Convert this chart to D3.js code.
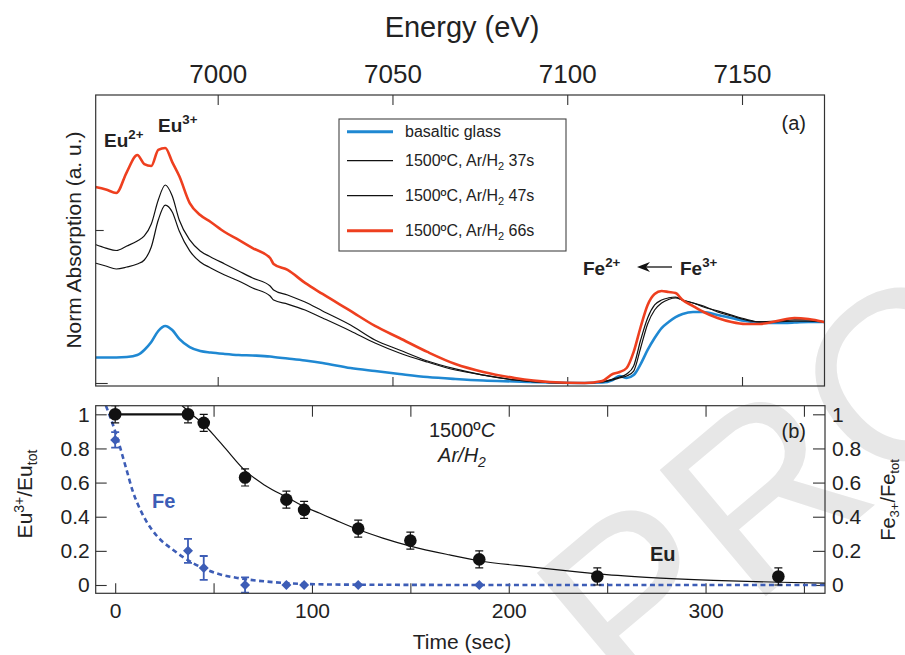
<!DOCTYPE html>
<html><head><meta charset="utf-8">
<script src="https://cdn.jsdelivr.net/npm/d3@7"></script>
<style>
body{margin:0;background:#fff}
svg{display:block}
</style>
</head><body>
<svg id="c" width="905" height="655"></svg>
<script>
// ---------------- DATA ----------------
// Panel (a): XANES spectra, normalised absorption (arbitrary offset units)
const energy = [6965,6968,6971,6974,6977,6979,6981,6983,6985,6987,6989,6992,6995,6998,7002,7006,7010,7015,7016,7020,7025,7030,7038,7045,7052,7060,7068,7076,7085,7095,7105,7110,7113,7115,7117,7119,7121,7123,7125,7127,7129,7131,7133,7136,7139,7143,7147,7151,7155,7160,7165,7169,7173.5];
const glass = [0.167,0.167,0.167,0.170,0.183,0.216,0.268,0.340,0.373,0.346,0.288,0.235,0.209,0.199,0.190,0.183,0.180,0.173,0.170,0.160,0.147,0.131,0.098,0.078,0.059,0.039,0.026,0.016,0.010,0.003,0.000,0.003,0.020,0.046,0.033,0.052,0.124,0.216,0.294,0.359,0.399,0.431,0.451,0.464,0.464,0.444,0.425,0.405,0.395,0.392,0.395,0.399,0.399];
const arH37 = [0.784,0.765,0.745,0.758,0.778,0.804,0.889,1.065,1.163,1.118,0.993,0.863,0.791,0.752,0.706,0.667,0.621,0.569,0.542,0.516,0.477,0.425,0.340,0.261,0.196,0.137,0.085,0.052,0.020,0.003,0.000,0.007,0.020,0.033,0.046,0.078,0.229,0.386,0.477,0.523,0.546,0.556,0.542,0.523,0.497,0.471,0.444,0.418,0.399,0.399,0.405,0.405,0.399];
const arH47 = [0.905,0.882,0.866,0.895,0.928,0.961,1.039,1.196,1.294,1.222,1.065,0.935,0.863,0.824,0.778,0.732,0.686,0.634,0.608,0.575,0.529,0.471,0.379,0.281,0.216,0.144,0.092,0.052,0.020,0.003,0.000,0.007,0.026,0.039,0.059,0.111,0.281,0.425,0.510,0.542,0.556,0.562,0.542,0.523,0.503,0.464,0.438,0.412,0.399,0.405,0.412,0.412,0.399];
const arH66 = [1.281,1.265,1.242,1.379,1.490,1.431,1.418,1.523,1.536,1.444,1.353,1.176,1.098,1.052,0.987,0.935,0.882,0.817,0.778,0.739,0.654,0.582,0.471,0.373,0.294,0.203,0.124,0.072,0.033,0.007,0.000,0.013,0.059,0.072,0.098,0.203,0.366,0.510,0.582,0.601,0.595,0.588,0.542,0.503,0.464,0.425,0.399,0.386,0.386,0.405,0.425,0.418,0.399];
const energyTicks = [7000,7050,7100,7150];
const absTicks = [0,1];
const legendLabels = ["basaltic glass","37s","47s","66s"];

// Panel (b): redox kinetics
const euTime = [0,37,45,66,87,96,123.5,150,185,245,337];
const euFrac = [1.0,1.0,0.95,0.63,0.50,0.44,0.33,0.26,0.15,0.05,0.05];
const euErr  = [0.05,0.05,0.05,0.05,0.05,0.05,0.05,0.05,0.05,0.05,0.05];
const feTime = [0,37,45,66,87,96,123.5,185];
const feFrac = [0.85,0.20,0.10,0.0,0.0,0.0,0.0,0.0];
const feErr  = [0.045,0.07,0.07,0.045,0,0,0,0];
const euFitTime = [34,40,45,50,56,66,76,87,96,104,112,123.5,136,150,170,185,212,236,245,270,304,338,361];
const euFitFrac = [1.05,0.99,0.94,0.88,0.80,0.67,0.585,0.515,0.46,0.42,0.38,0.325,0.275,0.228,0.176,0.142,0.105,0.075,0.065,0.045,0.027,0.016,0.011];
const feFitTime = [-4.7,0,2.4,5.8,9.2,12,16,21,29.5,39.7,51.6,63.4,77,94,120,200,361];
const feFitFrac = [1.05,0.90,0.81,0.674,0.54,0.46,0.37,0.29,0.205,0.127,0.068,0.039,0.02,0.007,0.002,0,0];
const timeTicks = [0,50,100,150,200,250,300,350];
const fracTicks = [0,0.2,0.4,0.6,0.8,1];

// ---------------- DRAWING ----------------
const FONT = '"Liberation Sans", Arial, Helvetica, sans-serif';
const INK = "#222";
const BLUE = "#1f88d2", RED = "#ee3f1f", FEB = "#3d5db6";
const svg = d3.select("#c").attr("font-family", FONT);

// watermark
svg.append("text").attr("transform","translate(628,712) rotate(-40)")
  .attr("font-size",240).attr("fill","#e7e7e7").attr("font-family",FONT).text("PROOF");

function styleAxis(g, fs){
  g.select(".domain").remove();
  g.selectAll("line").attr("stroke","#333").attr("stroke-width",1.1);
  g.selectAll("text").attr("font-size",fs).attr("font-family",FONT).attr("fill",INK);
}

// ===== Panel (a) =====
const A = {l:95.7, r:824.5, t:95, b:386};
const xA = d3.scaleLinear().domain([6965.1,7173.6]).range([A.l,A.r]);
const yA = d3.scaleLinear().domain([0,1]).range([383,230]);

svg.append("clipPath").attr("id","clipA").append("rect")
  .attr("x",A.l).attr("y",A.t).attr("width",A.r-A.l).attr("height",A.b-A.t);

svg.append("g").attr("transform",`translate(0,${A.t})`)
  .call(d3.axisTop(xA).tickValues(energyTicks).tickSize(-10).tickPadding(12).tickFormat(d3.format("d")))
  .call(g=>styleAxis(g,26));
svg.append("g").attr("transform",`translate(0,${A.b})`)
  .call(d3.axisBottom(xA).tickValues(energyTicks).tickSize(-9).tickFormat(""))
  .call(g=>styleAxis(g,10));
svg.append("g").attr("transform",`translate(${A.l},0)`)
  .call(d3.axisLeft(yA).tickValues(absTicks).tickSize(-8).tickFormat(""))
  .call(g=>styleAxis(g,10))
  .call(g=>g.selectAll(".tick line").attr("x2",d=>d===0?12:8));

const lineA = d3.line().x((d,i)=>xA(energy[i])).y(d=>yA(d)).curve(d3.curveMonotoneX);
const gA = svg.append("g").attr("clip-path","url(#clipA)");
gA.append("path").attr("d",lineA(glass)).attr("fill","none").attr("stroke",BLUE).attr("stroke-width",2.6);
gA.append("path").attr("d",lineA(arH37)).attr("fill","none").attr("stroke","#111").attr("stroke-width",1.2);
gA.append("path").attr("d",lineA(arH47)).attr("fill","none").attr("stroke","#111").attr("stroke-width",1.2);
gA.append("path").attr("d",lineA(arH66)).attr("fill","none").attr("stroke",RED).attr("stroke-width",2.6);

svg.append("rect").attr("x",A.l).attr("y",A.t).attr("width",A.r-A.l).attr("height",A.b-A.t)
  .attr("fill","none").attr("stroke","#333").attr("stroke-width",1.2);

// legend
const leg = svg.append("g");
leg.append("rect").attr("x",339).attr("y",119).attr("width",227).attr("height",132)
  .attr("fill","#fff").attr("stroke","#444").attr("stroke-width",1.1);
const legRows = [131.7,160.7,195.7,230.7];
const legCols = [BLUE,"#111","#111",RED];
const legW = [3,1.2,1.2,3];
legendLabels.forEach((lab,i)=>{
  leg.append("line").attr("x1",347).attr("x2",393).attr("y1",legRows[i]).attr("y2",legRows[i])
    .attr("stroke",legCols[i]).attr("stroke-width",legW[i]);
  const t = leg.append("text").attr("x",405).attr("y",legRows[i]+5.5).attr("font-size",16).attr("fill",INK);
  if(i===0){ t.text(lab); }
  else {
    t.append("tspan").text("1500ºC, Ar/H");
    t.append("tspan").attr("font-size",11).attr("dy",4).text("2");
    t.append("tspan").attr("dy",-4).text(" "+lab);
  }
});

// annotations panel a
function ionLabel(x,y,base,sup,fs,color){
  const t = svg.append("text").attr("x",x).attr("y",y).attr("font-size",fs)
    .attr("font-weight","bold").attr("fill",color||INK);
  t.append("tspan").text(base);
  t.append("tspan").attr("font-size",fs*0.7).attr("dy",-fs*0.42).text(sup);
  return t;
}
ionLabel(104,147,"Eu","2+",19);
ionLabel(158,132,"Eu","3+",19);
ionLabel(583,275,"Fe","2+",19);
ionLabel(680,275,"Fe","3+",19);
// arrow Fe3+ -> Fe2+ (pointing left)
svg.append("line").attr("x1",645).attr("x2",672).attr("y1",267).attr("y2",267)
  .attr("stroke","#111").attr("stroke-width",1.3);
svg.append("path").attr("d","M637,267 L650,262 L646,267 L650,272 Z").attr("fill","#111");
svg.append("text").attr("x",806).attr("y",130).attr("text-anchor","end").attr("font-size",20).attr("fill",INK).text("(a)");

// axis titles panel a
svg.append("text").attr("x",462).attr("y",37).attr("text-anchor","middle").attr("font-size",29).attr("fill",INK).text("Energy (eV)");
svg.append("text").attr("transform","translate(81,240) rotate(-90)").attr("text-anchor","middle")
  .attr("font-size",21).attr("fill",INK).text("Norm Absorption (a. u.)");

// ===== Panel (b) =====
const B = {l:95.7, r:825, t:405.7, b:593.3};
const xB = d3.scaleLinear().domain([-9.9,360.7]).range([B.l,B.r]);
const yB = d3.scaleLinear().domain([0,1]).range([585,414.3]);

svg.append("clipPath").attr("id","clipB").append("rect")
  .attr("x",B.l).attr("y",B.t).attr("width",B.r-B.l).attr("height",B.b-B.t);

svg.append("g").attr("transform",`translate(0,${B.t})`)
  .call(d3.axisTop(xB).tickValues(timeTicks).tickSize(-11).tickFormat(""))
  .call(g=>styleAxis(g,10));
svg.append("g").attr("transform",`translate(0,${B.b})`)
  .call(d3.axisBottom(xB).tickValues(timeTicks).tickSize(-10).tickPadding(10).tickFormat(d=>d%100===0?d:""))
  .call(g=>styleAxis(g,21));
svg.append("g").attr("transform",`translate(${B.l},0)`)
  .call(d3.axisLeft(yB).tickValues(fracTicks).tickSize(-11).tickPadding(6).tickFormat(d=>d3.format("~g")(d)))
  .call(g=>styleAxis(g,21));
svg.append("g").attr("transform",`translate(${B.r},0)`)
  .call(d3.axisRight(yB).tickValues(fracTicks).tickSize(-12).tickPadding(7).tickFormat(d=>d3.format("~g")(d)))
  .call(g=>styleAxis(g,21));

const gB = svg.append("g").attr("clip-path","url(#clipB)");
const fitLine = (ts)=>d3.line().x((d,i)=>xB(ts[i])).y(d=>yB(d)).curve(d3.curveMonotoneX);
gB.append("path").attr("d",fitLine(feFitTime)(feFitFrac)).attr("fill","none")
  .attr("stroke",FEB).attr("stroke-width",2.6).attr("stroke-dasharray","5,3.5");
gB.append("path").attr("d",fitLine(euFitTime)(euFitFrac)).attr("fill","none")
  .attr("stroke","#111").attr("stroke-width",1.2);
gB.append("line").attr("x1",xB(euTime[0])).attr("x2",xB(euTime[1])).attr("y1",yB(1)).attr("y2",yB(1))
  .attr("stroke","#111").attr("stroke-width",2.2);

// error bars
function errBars(ts,vs,es,color,w){
  ts.forEach((t,i)=>{
    if(!es[i]) return;
    const x=xB(t), y1=yB(vs[i]-es[i]), y2=yB(vs[i]+es[i]);
    gB.append("line").attr("x1",x).attr("x2",x).attr("y1",y1).attr("y2",y2).attr("stroke",color).attr("stroke-width",w);
    [y1,y2].forEach(y=>gB.append("line").attr("x1",x-4).attr("x2",x+4).attr("y1",y).attr("y2",y).attr("stroke",color).attr("stroke-width",w));
  });
}
errBars(feTime,feFrac,feErr,FEB,1.8);
errBars(euTime,euFrac,euErr,"#111",1.2);

const diamond = d3.symbol().type(d3.symbolSquare).size(50);
feTime.forEach((t,i)=>{
  svg.append("path").attr("d",diamond()).attr("fill",FEB)
    .attr("transform",`translate(${xB(t)},${yB(feFrac[i])}) rotate(45)`);
});
euTime.forEach((t,i)=>{
  svg.append("circle").attr("cx",xB(t)).attr("cy",yB(euFrac[i])).attr("r",6.3).attr("fill","#111");
});

svg.append("rect").attr("x",B.l).attr("y",B.t).attr("width",B.r-B.l).attr("height",B.b-B.t)
  .attr("fill","none").attr("stroke","#333").attr("stroke-width",1.2);

// annotations panel b
const cond = svg.append("text").attr("x",462).attr("y",437).attr("text-anchor","middle").attr("font-size",20).attr("fill",INK);
cond.append("tspan").text("1500º");
cond.append("tspan").attr("font-style","italic").text("C");
const gas = svg.append("text").attr("x",462).attr("y",462).attr("text-anchor","middle").attr("font-size",20).attr("font-style","italic").attr("fill",INK);
gas.append("tspan").text("Ar/H");
gas.append("tspan").attr("font-size",14).attr("dy",5).text("2");
svg.append("text").attr("x",806).attr("y",438).attr("text-anchor","end").attr("font-size",20).attr("fill",INK).text("(b)");
svg.append("text").attr("x",152).attr("y",508).attr("font-size",20).attr("font-weight","bold").attr("fill",FEB).text("Fe");
svg.append("text").attr("x",650).attr("y",561).attr("font-size",20).attr("font-weight","bold").attr("fill",INK).text("Eu");

// axis titles panel b
svg.append("text").attr("x",462).attr("y",649).attr("text-anchor","middle").attr("font-size",21).attr("fill",INK).text("Time (sec)");
const ly = svg.append("text").attr("transform","translate(32,494) rotate(-90)").attr("text-anchor","middle").attr("font-size",21).attr("fill",INK);
ly.append("tspan").text("Eu");
ly.append("tspan").attr("font-size",14).attr("dy",-8).text("3+");
ly.append("tspan").attr("dy",8).text("/Eu");
ly.append("tspan").attr("font-size",14).attr("dy",5).text("tot");
const ry = svg.append("text").attr("transform","translate(895,500) rotate(-90)").attr("text-anchor","middle").attr("font-size",20).attr("fill",INK);
ry.append("tspan").text("Fe");
ry.append("tspan").attr("font-size",13).attr("dy",4).text("3+");
ry.append("tspan").attr("dy",-4).text("/Fe");
ry.append("tspan").attr("font-size",13).attr("dy",4).text("tot");
</script>
</body></html>
